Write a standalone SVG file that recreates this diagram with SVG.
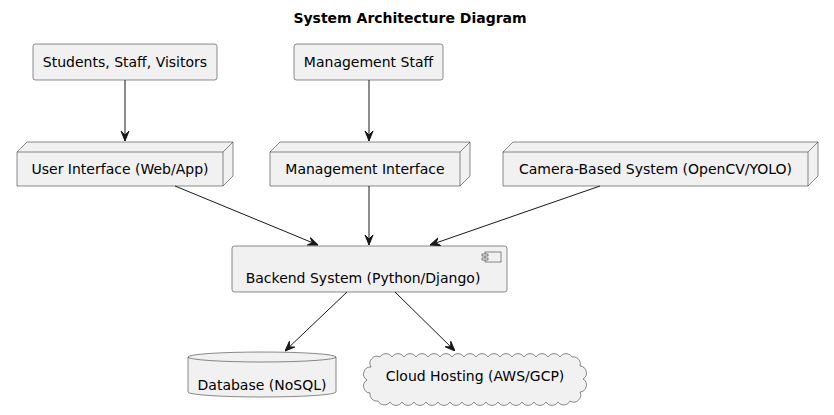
<svg xmlns="http://www.w3.org/2000/svg" width="834" height="415" viewBox="0 0 834 415">
<defs>
<style>
.t{font-family:"DejaVu Sans",sans-serif;font-size:14px;fill:#000;text-anchor:middle}
.ti{font-family:"DejaVu Sans",sans-serif;font-size:14px;font-weight:bold;fill:#000;text-anchor:middle}
.s{fill:#F1F1F1;stroke:#181818;stroke-width:0.5}
.n{fill:none;stroke:#181818;stroke-width:0.5}
.c{fill:none;stroke:#181818;stroke-width:1}
</style>
<marker id="ah" viewBox="0 0 10 10" refX="10" refY="5" markerWidth="10" markerHeight="10" orient="auto" markerUnits="userSpaceOnUse">
<path d="M0,1 L10,5 L0,9 L4,5 Z" fill="#181818" stroke="#181818" stroke-width="1"/>
</marker>
</defs>
<rect width="834" height="415" fill="#fff"/>
<text class="ti" x="410" y="23">System Architecture Diagram</text>

<g id="students">
<rect class="s" x="33" y="44" width="184" height="36" rx="2.5"/>
<text class="t" x="125" y="67">Students, Staff, Visitors</text>
</g>
<g id="mgmtstaff">
<rect class="s" x="294" y="44" width="149" height="36" rx="2.5"/>
<text class="t" x="368.5" y="67">Management Staff</text>
</g>

<g id="ui">
<path class="s" d="M17,152 L27,142 L233,142 L233,176 L223,186 L17,186 Z"/>
<path class="n" d="M17,152 L223,152 L233,142 M223,152 L223,186"/>
<text class="t" x="120" y="174">User Interface (Web/App)</text>
</g>
<g id="mgmtui">
<path class="s" d="M270,152 L280,142 L470,142 L470,176 L460,186 L270,186 Z"/>
<path class="n" d="M270,152 L460,152 L470,142 M460,152 L460,186"/>
<text class="t" x="365" y="174">Management Interface</text>
</g>
<g id="camera">
<path class="s" d="M503,152 L513,142 L818,142 L818,176 L808,186 L503,186 Z"/>
<path class="n" d="M503,152 L808,152 L818,142 M808,152 L808,186"/>
<text class="t" x="655.5" y="174">Camera-Based System (OpenCV/YOLO)</text>
</g>

<g id="backend">
<rect class="s" x="232" y="246" width="275" height="46" rx="2.5"/>
<rect class="s" x="485" y="252" width="16" height="10"/>
<rect class="s" x="482" y="254" width="6" height="2"/>
<rect class="s" x="482" y="258" width="6" height="2"/>
<text class="t" x="363" y="283">Backend System (Python/Django)</text>
</g>

<g id="database">
<path class="s" d="M188,357 A74,5 0 0 1 336,357 L336,392 A74,5 0 0 1 188,392 Z"/>
<path class="n" d="M188,357 A74,5 0 0 0 336,357"/>
<text class="t" x="262" y="390">Database (NoSQL)</text>
</g>

<g id="cloud">
<path class="s" d="M380,357 A7,7 0 0 1 392,357 A7,7 0 0 1 404,357 A7,7 0 0 1 416,357 A7,7 0 0 1 428,357 A7,7 0 0 1 440,357 A7,7 0 0 1 452,357 A7,7 0 0 1 464,357 A7,7 0 0 1 476,357 A7,7 0 0 1 488,357 A7,7 0 0 1 500,357 A7,7 0 0 1 512,357 A7,7 0 0 1 524,357 A7,7 0 0 1 536,357 A7,7 0 0 1 548,357 A7,7 0 0 1 560,357 A7,7 0 0 1 572,357 A7,7 0 0 1 580,366 A7,7 0 0 1 583,379 A7,7 0 0 1 580,392 A7,7 0 0 1 570,401 A7,7 0 0 1 558,402 A7,7 0 0 1 546,402 A7,7 0 0 1 534,402 A7,7 0 0 1 522,402 A7,7 0 0 1 510,402 A7,7 0 0 1 498,402 A7,7 0 0 1 486,402 A7,7 0 0 1 474,402 A7,7 0 0 1 462,402 A7,7 0 0 1 450,402 A7,7 0 0 1 438,402 A7,7 0 0 1 426,402 A7,7 0 0 1 414,402 A7,7 0 0 1 402,402 A7,7 0 0 1 390,402 A7,7 0 0 1 378,401 A7,7 0 0 1 370,393 A7,7 0 0 1 367,380 A7,7 0 0 1 371,367 A7,7 0 0 1 380,357 Z"/>
<text class="t" x="475" y="381">Cloud Hosting (AWS/GCP)</text>
</g>

<g id="connectors">
<line class="c" x1="125" y1="80" x2="125" y2="141" marker-end="url(#ah)"/>
<line class="c" x1="369" y1="80" x2="369" y2="141" marker-end="url(#ah)"/>
<line class="c" x1="175" y1="186" x2="318" y2="245" marker-end="url(#ah)"/>
<line class="c" x1="369" y1="186" x2="369" y2="245" marker-end="url(#ah)"/>
<line class="c" x1="600" y1="186" x2="430" y2="245" marker-end="url(#ah)"/>
<line class="c" x1="347" y1="292" x2="285" y2="351" marker-end="url(#ah)"/>
<line class="c" x1="395" y1="292" x2="455" y2="351" marker-end="url(#ah)"/>
</g>
</svg>
